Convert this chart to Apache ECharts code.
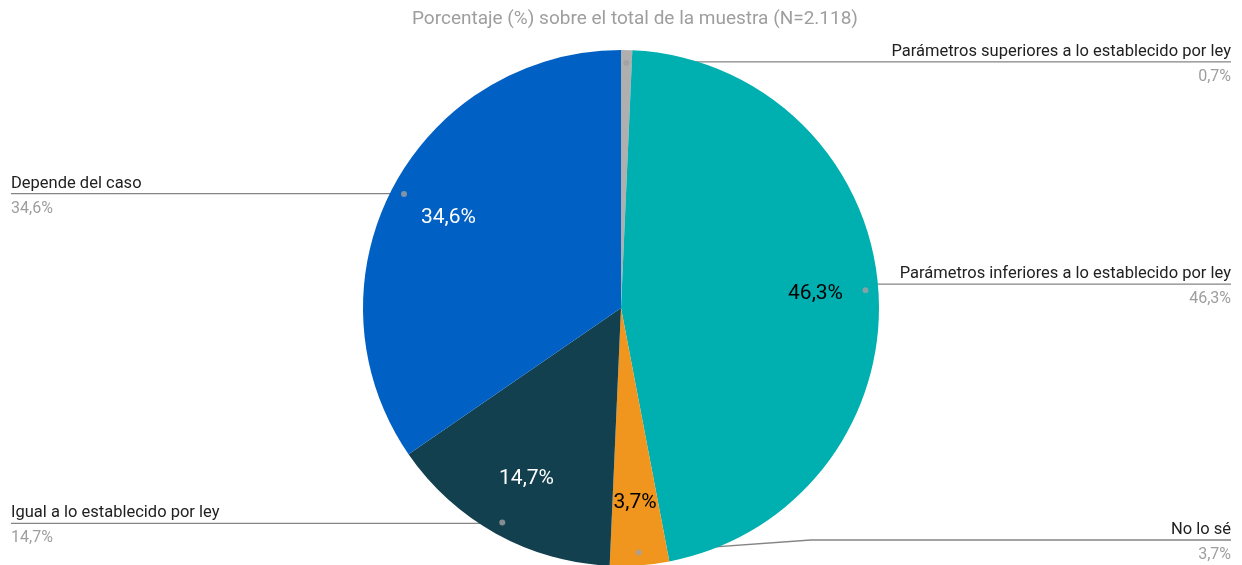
<!DOCTYPE html>
<html>
<head>
<meta charset="utf-8">
<script src="https://cdn.jsdelivr.net/npm/echarts@6/dist/echarts.min.js"></script>
<style>
	html, body { margin: 0; padding: 0; background: #fff; }
	#pie { width: 1242px; height: 565px; }
</style>
</head>
<body>
<div id="pie"></div>
<script>
// 数据
var names = ['Parámetros superiores a lo establecido por ley', 'Parámetros inferiores a lo establecido por ley', 'No lo sé', 'Igual a lo establecido por ley', 'Depende del caso'];
var values = [0.7, 46.3, 3.7, 14.7, 34.6];
var colors = ['#AFAFAF', '#00AFB0', '#F0961E', '#12404F', '#0060C4'];
var innerColors = ['#000', '#000', '#000', '#fff', '#fff'];
var titleText = 'Porcentaje (%) sobre el total de la muestra (N=2.118)';

function pct(v) {
	return v.toFixed(1).replace('.', ',') + '%';
}

var main = {
	init: function() {
		var myChart = echarts.init(document.getElementById('pie'));
		var cx = '50%', cy = 308, r = 258;

		var baseData = [], innerData = [], outerData = [], dots = [];
		var total = 0, acc = 0;
		values.forEach(function(v) { total += v; });
		for (var i = 0; i < values.length; i++) {
			baseData.push({ name: names[i], value: values[i], itemStyle: { color: colors[i] } });
			innerData.push({
				name: names[i], value: values[i],
				label: { show: values[i] >= 2, color: innerColors[i] }
			});
			outerData.push({ name: names[i], value: values[i] });
			// 点的位置（中间角度）
			dots.push([0.95, (acc + values[i] / 2) / total * 100]);
			acc += values[i];
		}

		var option = {
			animation: false,
			title: {
				text: titleText,
				left: 407,
				top: 5,
				textStyle: { fontFamily: 'Roboto', fontSize: 19, fontWeight: 'normal', color: '#9e9e9e' }
			},
			polar: { center: [cx, cy], radius: r },
			angleAxis: { type: 'value', min: 0, max: 100, startAngle: 90, clockwise: true, show: false },
			radiusAxis: { type: 'value', min: 0, max: 1, show: false },
			series: [{
				type: 'pie',
				center: [cx, cy],
				radius: [0, r],
				startAngle: 90,
				silent: true,
				label: { show: false },
				labelLine: { show: false },
				data: baseData
			}, {
				// 扇区内部的百分比
				type: 'pie',
				center: [cx, cy],
				radius: [126, r],
				startAngle: 90,
				silent: true,
				itemStyle: { color: 'transparent' },
				label: {
					position: 'inside',
					fontFamily: 'Roboto',
					fontSize: 21,
					formatter: function(p) { return pct(p.value); }
				},
				labelLine: { show: false },
				data: innerData
			}, {
				// 外部标签
				type: 'pie',
				center: [cx, cy],
				radius: [0, r * 0.95],
				startAngle: 90,
				silent: true,
				itemStyle: { color: 'transparent' },
				label: {
					alignTo: 'edge',
					edgeDistance: 11,
					minMargin: 4,
					padding: [10, 0, 0, 0],
					fontFamily: 'Roboto',
					formatter: function(p) { return '{n|' + p.name + '}\n{v|' + pct(p.value) + '}'; },
					rich: {
						n: { fontFamily: 'Roboto', fontSize: 16.5, color: '#212121', lineHeight: 20 },
						v: { fontFamily: 'Roboto', fontSize: 16, color: '#9e9e9e', lineHeight: 30 }
					}
				},
				labelLine: {
					length: 1,
					length2: 10,
					lineStyle: { color: '#858585', width: 1.3 }
				},
				labelLayout: function(params) {
					var isLeft = params.labelRect.x < myChart.getWidth() / 2;
					var points = params.labelLinePoints;
					if (points) {
						points[2][0] = isLeft ? params.labelRect.x : params.labelRect.x + params.labelRect.width;
					}
					return { labelLinePoints: points };
				},
				data: outerData
			}, {
				type: 'scatter',
				coordinateSystem: 'polar',
				silent: true,
				symbolSize: 6,
				itemStyle: { color: '#a0a0a0' },
				data: dots
			}]
		};
		myChart.setOption(option);
	}
};

main.init();
</script>
</body>
</html>
